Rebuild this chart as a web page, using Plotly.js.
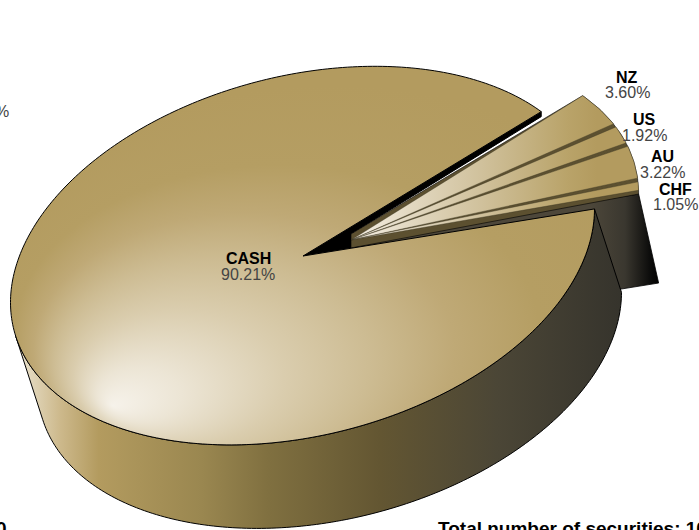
<!DOCTYPE html>
<html><head><meta charset="utf-8">
<script src="https://cdn.plot.ly/plotly-3.0.1.min.js"></script>
<style>html,body{margin:0;padding:0;background:#fff;overflow:hidden}#c{width:699px;height:530px}</style>
</head><body><div id="c"></div>
<script>
const categories = ['CASH','CHF','AU','US','NZ'];
const shares = [90.21,1.05,3.22,1.92,3.60];
const footer = 'Total number of securities: 10';
const clippedLeft = '%';
const clippedBottom = '0';

// projection of the tilted disc
const E = {x:302.5,y:255.6}, A = 298, B = 179.7, tilt = 14.5*Math.PI/180;
const apex = {x:303,y:256}, apex2 = {x:351,y:240};
const startDeg = 26.3, gapDeg = 1.2, smallScale = 0.985;
const off1 = {x:27,y:83.5}, off2 = {x:20,y:89};
const total = shares.reduce((a,b)=>a+b,0);
const sweep = shares.map(v=>v/total*360);

function rim(deg, c, s){
  const t = deg*Math.PI/180, a = A*s*Math.cos(t), b = B*s*Math.sin(t);
  return {x:c.x + a*Math.cos(tilt) - b*Math.sin(tilt), y:c.y - a*Math.sin(tilt) - b*Math.cos(tilt)};
}
function arc(d0,d1,c,s){
  const n = Math.max(2,Math.ceil(Math.abs(d1-d0))), out=[];
  for(let i=0;i<=n;i++) out.push(rim(d0+(d1-d0)*i/n,c,s));
  return out;
}
const shift=(p,o)=>({x:p.x+o.x,y:p.y+o.y});
function poly(pts,opt){
  const closed = pts.concat([pts[0]]);
  return Object.assign({type:'scatter',mode:'lines',x:closed.map(p=>p.x),y:closed.map(p=>p.y),
    fill:'toself',hoverinfo:'skip',line:{color:'#000',width:1,simplify:false}},opt);
}

const cashEnd = startDeg + sweep[0];
const traces = [];

// wall of the exploded slices
const grpEnd = cashEnd-360;
const chfRim = rim(grpEnd,apex2,smallScale);
traces.push(poly([apex2,chfRim,shift(chfRim,off2),shift(apex2,off2)],{
  fillgradient:{type:'horizontal',start:590,stop:660,colorscale:[[0,'#4d473a'],[0.5,'#3a372f'],[0.85,'#0d0d0c'],[1,'#000']]},
  line:{color:'#000',width:0.8}}));

// cash outer wall
let tSil=180,best=-1e9;
for(let d=90;d<=270;d+=0.5){
  const p=rim(d,E,1), c=-((p.x-E.x)*off1.y-(p.y-E.y)*off1.x);
  if(c>best){best=c;tSil=d;}
}
const topArc = arc(tSil,cashEnd,E,1), botArc = arc(cashEnd,tSil,shift(E,off1),1);
traces.push(poly(topArc.concat(botArc),{
  fillgradient:{type:'horizontal',start:20,stop:625,colorscale:[
    [0,'#e9e1cc'],[0.066,'#cdb98c'],[0.13,'#b39b5f'],[0.30,'#9a8750'],[0.41,'#807040'],[0.595,'#635632'],[0.79,'#4b4636'],[1,'#35332c']]}}));

// dark gap
const cs = rim(startDeg,E,1);
traces.push(poly([apex,cs,{x:cs.x,y:cs.y+5},{x:apex2.x,y:234},{x:apex2.x,y:248}],{fillcolor:'#000'}));

// backing of the slices group
const groupTop = startDeg+1.2;
traces.push(poly([{x:apex2.x,y:234}].concat(arc(groupTop,grpEnd,apex2,smallScale),[{x:apex2.x,y:248}]),
  {fillcolor:'#5c5030',line:{color:'#000',width:0.6}}));

// cash top
traces.push(poly([apex].concat(arc(startDeg,cashEnd,E,1)),{
  fillgradient:{type:'radial',colorscale:[[0,'#f6f2ea'],[0.12,'#ece5d5'],[0.3,'#dacdae'],[0.45,'#cdbc93'],[0.6,'#bfa976'],[0.75,'#b59e63'],[1,'#b39b5f']]}}));

// small slices, walking back from NZ to CHF
const order=[4,3,2,1];
let hi = groupTop;
const k = (groupTop-grpEnd)/(sweep[1]+sweep[2]+sweep[3]+sweep[4]);
for(const i of order){
  const lo = hi - sweep[i]*k;
  traces.push(poly([apex2].concat(arc(hi,lo+gapDeg,apex2,smallScale)),{
    fillgradient:{type:'horizontal',start:351,stop:640,colorscale:[[0,'#f5f0e6'],[0.2,'#e3d9c2'],[0.45,'#d0c19c'],[0.75,'#b9a369'],[0.85,'#b39b5f'],[1,'#b39b5f']]},
    line:{color:'#3a3422',width:0.4}}));
  hi = lo;
}

// labels
const labelXY = {CASH:[248,258,274],NZ:[627,77,92],US:[644,119,135],AU:[662,156,172],CHF:[675,189,204]};
const ann=[];
categories.forEach((c,i)=>{
  const [x,y1,y2]=labelXY[c];
  ann.push({x:x,y:y1,xref:'x',yref:'y',text:'<b>'+c+'</b>',showarrow:false,font:{family:'Liberation Sans',size:16,color:'#000'}});
  ann.push({x:x,y:y2,xref:'x',yref:'y',text:shares[i].toFixed(2)+'%',showarrow:false,font:{family:'Liberation Sans',size:16,color:'#444'}});
});
ann.push({x:436,y:528.7,xref:'x',yref:'y',xanchor:'left',text:'<b>'+footer+'</b>',showarrow:false,font:{family:'Liberation Sans',size:19,color:'#000'}});
ann.push({x:11,y:111,xref:'x',yref:'y',xanchor:'right',text:clippedLeft,showarrow:false,font:{family:'Liberation Sans',size:16,color:'#444'}});
ann.push({x:9,y:528.7,xref:'x',yref:'y',xanchor:'right',text:'<b>'+clippedBottom+'</b>',showarrow:false,font:{family:'Liberation Sans',size:19,color:'#000'}});

const layout={width:699,height:530,margin:{l:0,r:0,t:0,b:0},showlegend:false,paper_bgcolor:'#fff',plot_bgcolor:'#fff',
  xaxis:{range:[0,699],visible:false,fixedrange:true},yaxis:{range:[530,0],visible:false,fixedrange:true},annotations:ann};

function focus(){
  document.querySelectorAll('radialGradient').forEach(g=>{
    g.setAttribute('gradientUnits','objectBoundingBox');
    g.setAttribute('cx','0.55');g.setAttribute('cy','0.65');g.setAttribute('r','0.6');
    g.setAttribute('fx','0.175');g.setAttribute('fy','0.897');
  });
}
Plotly.newPlot('c',traces,layout,{displayModeBar:false,staticPlot:true}).then(focus);
</script></body></html>
